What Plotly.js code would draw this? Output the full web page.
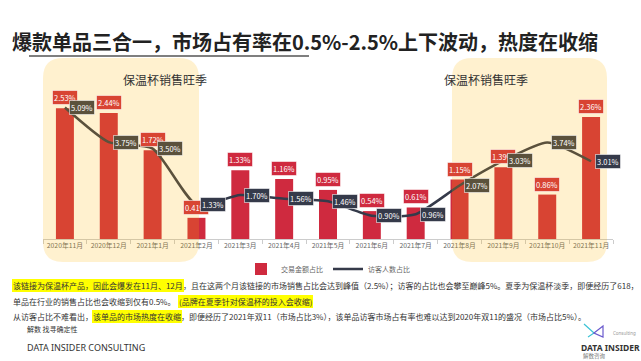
<!DOCTYPE html>
<html><head><meta charset="utf-8">
<script src="https://cdn.plot.ly/plotly-3.0.1.min.js"></script>
<style>html,body{margin:0;padding:0;background:#fff;overflow:hidden}#chart{width:641px;height:361px}</style>
</head><body><div id="chart"></div>
<script>
// ---- data ----
const months = ['2020年11月','2020年12月','2021年1月','2021年2月','2021年3月','2021年4月','2021年5月','2021年6月','2021年7月','2021年8月','2021年9月','2021年10月','2021年11月'];
const salesShare = [2.53,2.44,1.72,0.41,1.33,1.16,0.95,0.54,0.61,1.15,1.39,0.86,2.36];
const visitorShare = [5.09,3.75,3.50,1.33,1.70,1.56,1.46,0.90,0.96,2.07,3.03,3.74,3.01];
const seriesNames = ['交易金额占比','访客人数占比'];
const seasonLabel = '保温杯销售旺季';
const titleText = '爆款单品三合一，市场占有率在0.5%-2.5%上下波动，热度在收缩';
const noteLine1 = [['该链接为保温杯产品，因此会爆发在11月、12月',true],['，且在这两个月该链接的市场销售占比会达到峰值（2.5%）；访客的占比也会攀至巅峰5%。夏季为保温杯淡季，即便经历了618，',false]];
const noteLine2 = [['单品在行业的销售占比也会收缩到仅有0.5%。  ',false],['(品牌在夏季针对保温杯的投入会收缩)',true]];
const noteLine3 = [['从访客占比不难看出，',false],['该单品的市场热度在收缩',true],['，即便经历了2021年双11（市场占比3%），该单品访客市场占有率也难以达到2020年双11的盛况（市场占比5%）。',false]];
const footerSlogan = '解数 找寻确定性';
const footerName = 'DATA INSIDER CONSULTING';
const logoName = 'DATA INSIDER';
const logoCn = '解数咨询';
const logoSub = 'Consulting';

// ---- geometry / style ----
const W=641,H=361,ML=43,MR=28,MT=84,MB=122;
const PW=W-ML-MR, PH=H-MT-MB;
const px=p=>(p-ML)/PW, py=p=>(H-MB-p)/PH;
const CJK="'Noto Sans CJK SC', 'Noto Sans', sans-serif";
const barColor=[207,42,63], lineColor=[53,58,74];
const OV=[255,180,0], OA=0.19;
const rgb=c=>`rgb(${c.map(Math.round).join(',')})`;
const tint=c=>rgb(c.map((v,k)=>v*(1-OA)+OV[k]*OA));
const barLabelIn=[1,1,1,1,0,0,0,0,0,1,1,1,1];
const lineLabelIn=[1,1,1,0,0,0,0,0,0,1,1,1,0];

const traces=[
 {type:'bar',x:months,y:salesShare,name:seriesNames[0],marker:{color:rgb(barColor)},width:0.41,hoverinfo:'skip'},
 {type:'scatter',mode:'lines',x:months,y:visitorShare,yaxis:'y2',name:seriesNames[1],line:{color:rgb(lineColor),width:2.5,shape:'spline',smoothing:0.6},hoverinfo:'skip'}
];

const ann=[];
salesShare.forEach((v,i)=>ann.push({x:months[i],y:v,xref:'x',yref:'y',text:v.toFixed(2)+'%',showarrow:false,yanchor:'bottom',yshift:3,
  bgcolor:barLabelIn[i]?tint(barColor):rgb(barColor),bordercolor:'rgba(255,255,255,0.55)',borderwidth:1,borderpad:1,
  font:{family:CJK,size:7.5,color:'#fff'}}));
visitorShare.forEach((v,i)=>ann.push({x:months[i],y:v,xref:'x',yref:'y2',text:v.toFixed(2)+'%',showarrow:false,xanchor:'left',yanchor:'middle',xshift:4,
  bgcolor:lineLabelIn[i]?tint(lineColor):rgb(lineColor),bordercolor:'rgba(255,255,255,0.55)',borderwidth:1,borderpad:1,
  font:{family:CJK,size:7.5,color:'#fff'}}));

const boxes=[[43,199],[452,607]];
const shapes=[];
boxes.forEach(b=>{
  const r=20, rx=r/PW, ry=r/PH, X0=px(b[0]), X1=px(b[1]), YT=py(58), YB=py(262);
  const path=`M ${X0+rx},${YT} L ${X1-rx},${YT} Q ${X1},${YT} ${X1},${YT-ry} L ${X1},${YB+ry} Q ${X1},${YB} ${X1-rx},${YB} L ${X0+rx},${YB} Q ${X0},${YB} ${X0},${YB+ry} L ${X0},${YT-ry} Q ${X0},${YT} ${X0+rx},${YT} Z`;
  shapes.push({type:'path',xref:'paper',yref:'paper',path,fillcolor:`rgba(${OV.join(',')},${OA})`,line:{width:0},layer:'above'});
  ann.push({xref:'paper',yref:'paper',x:px((b[0]+b[1])/2),y:py(69),text:seasonLabel,showarrow:false,font:{family:CJK,size:12,color:'#333'}});
});

// title + underline
ann.push({xref:'paper',yref:'paper',x:px(10),y:py(42),xanchor:'left',yanchor:'middle',text:'<b>'+titleText+'</b>',showarrow:false,font:{family:CJK,size:20,color:'#222'}});
shapes.push({type:'line',xref:'paper',yref:'paper',x0:px(29),x1:px(309),y0:py(56),y1:py(56),line:{color:'#555',width:1.5}});

// notes
const ctx=document.createElement('canvas').getContext('2d');
ctx.font="8px 'Noto Sans CJK SC'";
[[noteLine1,285],[noteLine2,301],[noteLine3,316]].forEach(([segs,yy])=>{
  let cx=13;
  segs.forEach(([t,hl])=>{
    const w=ctx.measureText(t).width;
    ann.push({xref:'paper',yref:'paper',x:px(hl?cx-1:cx),y:py(yy),xanchor:'left',yanchor:'middle',text:t,showarrow:false,
      bgcolor:hl?'#ffff00':'rgba(0,0,0,0)',borderpad:hl?1:0,borderwidth:0,font:{family:CJK,size:8,color:'#333'}});
    cx+=w;
  });
});

// footer
ann.push({xref:'paper',yref:'paper',x:px(25),y:py(329),xanchor:'left',yanchor:'middle',text:footerSlogan,showarrow:false,font:{family:CJK,size:7,color:'#333'}});
ann.push({xref:'paper',yref:'paper',x:px(25),y:py(347),xanchor:'left',yanchor:'middle',text:footerName,showarrow:false,font:{family:'Noto Sans',size:9,color:'#333'}});
ann.push({xref:'paper',yref:'paper',x:px(610),y:py(347),xanchor:'center',yanchor:'middle',text:'<b>'+logoName+'</b>',showarrow:false,font:{family:'Noto Sans',size:8.5,color:'#333'}});
ann.push({xref:'paper',yref:'paper',x:px(581),y:py(356),xanchor:'left',yanchor:'middle',text:logoCn,showarrow:false,font:{family:CJK,size:5.5,color:'#777'}});
ann.push({xref:'paper',yref:'paper',x:px(638),y:py(333),xanchor:'right',yanchor:'middle',text:logoSub,showarrow:false,font:{family:'Noto Sans',size:4.5,color:'#999'}});
const P=(pts)=>'M '+pts.map(p=>px(p[0])+','+py(p[1])).join(' L ');
shapes.push({type:'path',xref:'paper',yref:'paper',path:P([[584,324],[594,333],[588,337]]),line:{color:'#3cc3d6',width:1.2}});
shapes.push({type:'path',xref:'paper',yref:'paper',path:P([[594,333],[603,326],[603,337]])+' Z',line:{color:'#6a5acd',width:1.2}});

const layout={
  width:W,height:H,margin:{l:ML,r:MR,t:MT,b:MB,pad:0},
  paper_bgcolor:'#fff',plot_bgcolor:'rgba(0,0,0,0)',
  showlegend:true,
  legend:{orientation:'h',x:0.5,xanchor:'center',y:py(269),yanchor:'middle',font:{family:CJK,size:7,color:'#666'},itemwidth:30,tracegroupgap:0,bgcolor:'rgba(0,0,0,0)'},
  bargap:0.59,
  xaxis:{type:'category',range:[-0.5,12.5],tickson:'boundaries',ticks:'outside',ticklen:4,tickcolor:'#ccc',showline:true,linecolor:'#ccc',linewidth:1,
    tickangle:0,tickfont:{family:CJK,size:6.8,color:'#666'},showgrid:false,zeroline:false,fixedrange:true},
  yaxis:{range:[0,3],visible:false,showgrid:false,zeroline:false,fixedrange:true},
  yaxis2:{range:[0,6],overlaying:'y',visible:false,showgrid:false,zeroline:false,fixedrange:true},
  annotations:ann,shapes:shapes
};
Plotly.newPlot('chart',traces,layout,{displayModeBar:false,staticPlot:true});
</script></body></html>
